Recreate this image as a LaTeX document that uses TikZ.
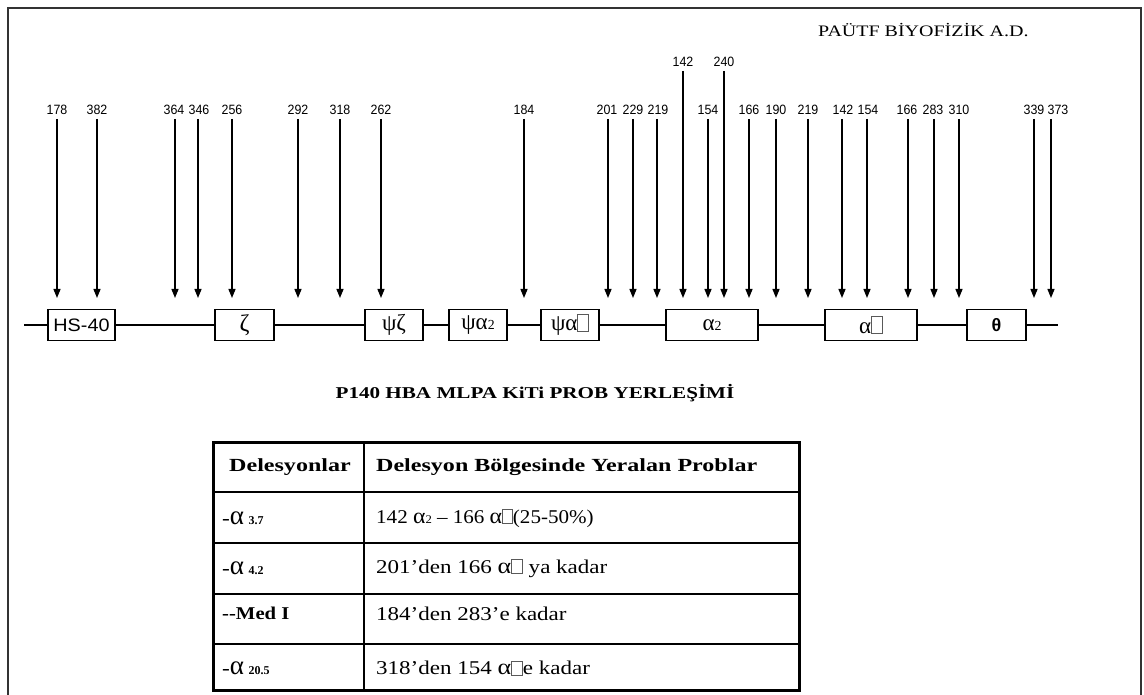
\documentclass[tikz,border=0pt]{standalone}
\usepackage{fontspec}
\usepackage{graphicx}
\setmainfont{Liberation Serif}
\newfontfamily\arial{Liberation Sans}
\usetikzlibrary{arrows.meta}
\newcommand\sx[2]{\scalebox{#1}[1]{#2}}
\newcommand\tofu{{\setlength\fboxsep{0pt}\setlength\fboxrule{0.6pt}\textcolor{black!65}{\fbox{\rule{0pt}{0.7em}\hspace{0.45em}}}}}
\newcommand\sm[1]{\scalebox{0.6}{#1}}
\newcommand\ba{{\fontsize{22}{22}\selectfont α}}
\begin{document}
\begin{tikzpicture}[x=1pt,y=-1pt,
  frame/.style={line width=2.5pt, draw=black!80},
  num/.style={font=\arial\fontsize{13.5}{16}\selectfont, inner sep=0pt},
  probe/.style={-{Triangle[length=9pt,width=7pt]}, line width=1.3pt, shorten <=4pt},
  gene/.style={draw, line width=1.3pt, fill=white, minimum height=31pt, inner sep=0pt},
  cell/.style={anchor=west, inner sep=0pt, font=\fontsize{19.5}{21}\selectfont},
  hcell/.style={cell, font=\bfseries\fontsize{18.5}{20}\selectfont},
  lcell/.style={anchor=west, inner sep=0pt, font=\bfseries\fontsize{18}{20}\selectfont}]
\useasboundingbox (0,0) rectangle (1144,695);
% frame
\draw[frame] (8,697) -- (8,8) -- (1141,8) -- (1141,697);
\node[anchor=west, inner sep=0pt, font=\fontsize{16}{18}\selectfont] (lab) at (818,30) {\sx{1.25}{PAÜTF BİYOFİZİK A.D.}};
% main line
\coordinate (w) at (24,325);
\coordinate (e) at (1058,325);
\draw[line width=1.8pt] (w) -- (e);
% gene boxes
\node[gene, minimum width=67pt, font=\arial\fontsize{18}{18}\selectfont] (hs) at (81.5,325) {\sx{1.1}{HS-40}};
\node[gene, minimum width=59pt, font=\fontsize{24}{24}\selectfont] (zeta) at (244.5,325) {ζ};
\node[gene, minimum width=58pt, font=\fontsize{23}{23}\selectfont] (psizeta) at (394,325) {ψζ};
\node[gene, minimum width=58pt, font=\fontsize{23}{23}\selectfont] (psia2) at (478,325) {ψα\sm{2}};
\node[gene, minimum width=58pt, font=\fontsize{23}{23}\selectfont] (psia1) at (570,325) {ψα\tofu};
\node[gene, minimum width=92pt, font=\fontsize{23}{23}\selectfont] (a2) at (712,325) {α\sm{2}};
\node[gene, minimum width=92pt, font=\fontsize{23}{23}\selectfont] (a1) at (871,325) {α\tofu};
\node[gene, minimum width=59pt, font=\arial\bfseries\fontsize{18}{18}\selectfont] (theta) at (996.5,325) {θ};
% probes
\foreach \nm/\x/\lx/\t in {a/57/57/178, b/97/97/382, c/175/174/364, d/198/199/346, e/232/232/256, f/298/298/292, g/340/340/318, h/381/381/262, i/524/524/184, j/608/607/201, k/633/633/229, l/657/658/219, m/708/708/154, n/749/749/166, o/776/776/190, p/808/808/219, q/842/843/142, r/867/868/154, s/908/907/166, t/934/933/283, u/959/959/310, v/1034/1034/339, x/1051/1058/373} {
  \node[num] (n-\nm) at (\lx,110) {\sx{0.92}{\t}};
  \coordinate (p-\nm) at (\x,298);
  \draw[probe] (p-\nm |- n-\nm.south) -- (p-\nm);
}
\foreach \nm/\x/\t in {y/683/142, z/724/240} {
  \node[num] (n-\nm) at (\x,62) {\sx{0.92}{\t}};
  \coordinate (p-\nm) at (\x,298);
  \draw[probe] (n-\nm.south) -- (p-\nm);
}
% title
\node[font=\bfseries\fontsize{16.5}{18}\selectfont, inner sep=0pt] (title) at (535,393) {\sx{1.28}{P140 HBA MLPA KiTi PROB YERLEŞİMİ}};
% table
\draw[line width=3pt] (213,442) rectangle (799,690);
\draw[line width=1.6pt] (364,442) -- (364,690);
\foreach \y in {492,543,594,644} \draw[line width=1.6pt] (213,\y) -- (799,\y);
\node[hcell, anchor=center] (h1) at (290,467) {\sx{1.3}{Delesyonlar}};
\node[hcell] (h2) at (376,467) {\sx{1.3}{Delesyon Bölgesinde Yeralan Problar}};
\node[lcell] (r1a) at (222,518) {\sx{1.3}{-}{\mdseries\fontsize{27}{27}\selectfont α}\ {\fontsize{12}{12}\selectfont 3.7}};
\node[lcell] (r2a) at (222,568) {\sx{1.3}{-}{\mdseries\fontsize{27}{27}\selectfont α}\ {\fontsize{12}{12}\selectfont 4.2}};
\node[lcell] (r3a) at (222,613) {\sx{1.15}{-{}-Med I}};
\node[lcell] (r4a) at (222,668) {\sx{1.3}{-}{\mdseries\fontsize{27}{27}\selectfont α}\ {\fontsize{12}{12}\selectfont 20.5}};
\node[cell] (r1b) at (376,518) {\sx{1.08}{142 \ba\sm{2} – 166 \ba\tofu(25-50\%)}};
\node[cell] (r2b) at (376,568) {\sx{1.18}{201’den 166 \ba\tofu\ ya kadar}};
\node[cell] (r3b) at (376,614) {\sx{1.18}{184’den 283’e kadar}};
\node[cell] (r4b) at (376,668) {\sx{1.18}{318’den 154 \ba\tofu e kadar}};
\end{tikzpicture}
\end{document}
